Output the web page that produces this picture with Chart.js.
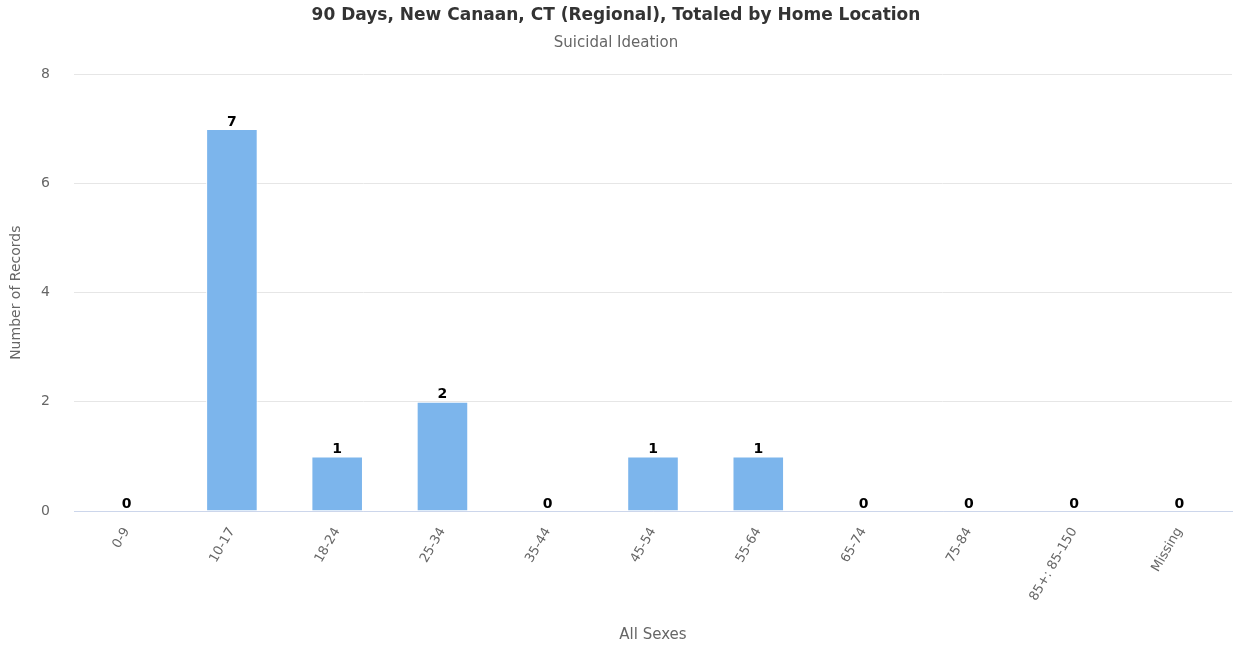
<!DOCTYPE html>
<html>
<head>
<meta charset="utf-8">
<script src="https://cdn.jsdelivr.net/npm/chart.js@4.4.1/dist/chart.umd.min.js"></script>
<style>
html,body{margin:0;padding:0;background:#fff;}
#wrap{width:1233px;height:648px;position:relative;}
</style>
</head>
<body>
<div id="wrap"><canvas id="c" width="1233" height="648"></canvas></div>
<script>
const categories = ["0-9","10-17","18-24","25-34","35-44","45-54","55-64","65-74","75-84","85+: 85-150","Missing"];
const records = [0,7,1,2,0,1,1,0,0,0,0];
const yTicks = [0,2,4,6,8];

const FONT = "'DejaVu Sans',sans-serif";

const dataLabels = {
  id: 'dataLabels',
  afterDatasetsDraw(chart) {
    const ctx = chart.ctx;
    const meta = chart.getDatasetMeta(0);
    ctx.save();
    ctx.font = "bold 14px " + FONT;
    ctx.textAlign = 'center';
    ctx.textBaseline = 'bottom';
    ctx.lineJoin = 'round';
    meta.data.forEach((bar, i) => {
      const txt = String(records[i]);
      const x = bar.x, y = bar.y;
      ctx.strokeStyle = '#ffffff';
      ctx.lineWidth = 3;
      ctx.strokeText(txt, x, y);
      ctx.fillStyle = '#000000';
      ctx.fillText(txt, x, y);
    });
    ctx.restore();
  }
};

new Chart(document.getElementById('c'), {
  type: 'bar',
  data: {
    labels: categories,
    datasets: [{
      data: records,
      backgroundColor: '#7cb5ec',
      borderColor: '#ffffff',
      borderWidth: {left:1,right:1,top:1,bottom:0},
      categoryPercentage: 1.0,
      barPercentage: 0.49
    }]
  },
  options: {
    responsive: false,
    animation: false,
    layout: {padding: {left: 0, right: 1, top: 0, bottom: 0}},
    plugins: {
      legend: {display: false},
      tooltip: {enabled: false},
      title: {
        display: true,
        text: '90 Days, New Canaan, CT (Regional), Totaled by Home Location',
        color: '#333333',
        font: {family: FONT, size: 17, weight: 'bold'},
        padding: {top: 5, bottom: 9}
      },
      subtitle: {
        display: true,
        text: 'Suicidal Ideation',
        color: '#666666',
        font: {family: FONT, size: 15},
        padding: {top: 0, bottom: 22}
      }
    },
    scales: {
      x: {
        grid: {display: false, drawTicks: false},
        border: {display: true, color: '#ccd6eb', width: 1},
        ticks: {
          color: '#666666',
          font: {family: FONT, size: 13},
          minRotation: 60, maxRotation: 60,
          autoSkip: false,
          padding: 14
        },
        title: {
          display: true,
          text: 'All Sexes',
          color: '#666666',
          font: {family: FONT, size: 15},
          padding: {top: 0, bottom: 4}
        },
        afterFit(s) { s.height = 137; }
      },
      y: {
        min: 0, max: 8,
        afterBuildTicks(s) { s.ticks = yTicks.map(v => ({value: v})); },
        grid: {color: '#e6e6e6', drawTicks: false},
        border: {display: false},
        ticks: {
          color: '#666666',
          font: {family: FONT, size: 14},
          padding: 24
        },
        title: {
          display: true,
          text: 'Number of Records',
          color: '#666666',
          font: {family: FONT, size: 14},
          padding: {top: 8, bottom: 0}
        },
        afterFit(s) { s.width = 74; }
      }
    }
  },
  plugins: [dataLabels]
});
</script>
</body>
</html>
